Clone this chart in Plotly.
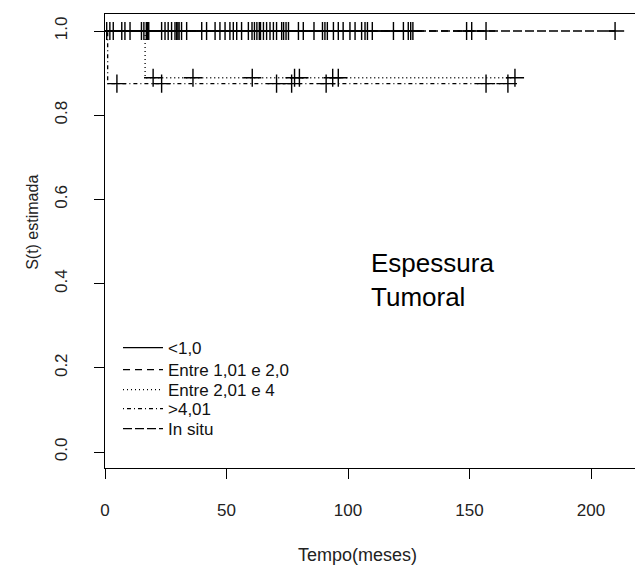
import plotly.graph_objects as go

# ---------------- data ----------------
group_names = ["&lt;1,0", "Entre 1,01 e 2,0", "Entre 2,01 e 4", "&gt;4,01", "In situ"]

# step-function knots (time, survival) for each group
lt1_times = [0, 126.7]
lt1_surv = [1.0, 1.0]
lt1_censor = [0.7, 2.0, 3.4, 6.9, 8.2, 10.3, 15.0, 16.0, 17.0, 18.0, 23.3, 24.7, 26.0,
              27.4, 28.8, 29.5, 30.5, 31.5, 33.6, 39.8, 41.8, 45.3, 47.3, 49.4, 51.4,
              52.8, 54.2, 56.2, 60.5, 61.5, 62.5, 63.5, 65.2, 66.5, 67.9, 69.3, 70.6,
              72.7, 73.5, 74.5, 75.5, 79.6, 81.6, 89.5, 90.5, 91.5, 94.0, 96.0, 98.0,
              100.8, 102.9, 105.6, 107.0, 108.0, 110.0, 118.7, 122.8, 124.8, 125.8, 126.7]

e12_times = [0, 156.8]
e12_surv = [1.0, 1.0]
e12_censor = [17.5, 59.0, 86.0, 148.8, 156.8]

e24_times = [0, 16.5, 168.7]
e24_surv = [1.0, 0.889, 0.889]
e24_censor = [19.8, 36.2, 60.6, 78.0, 80.0, 93.7, 96.0, 168.7]

g4_times = [0, 1.1, 165.8]
g4_surv = [1.0, 0.875, 0.875]
g4_censor = [4.9, 23.3, 70.6, 76.8, 91.0, 156.8, 165.8]

situ_times = [0, 209.9]
situ_surv = [1.0, 1.0]
situ_censor = [30.0, 64.0, 150.9, 209.9]

x_ticks = [0, 50, 100, 150, 200]
y_ticks = [0.0, 0.2, 0.4, 0.6, 0.8, 1.0]
y_ticklabels = ["0.0", "0.2", "0.4", "0.6", "0.8", "1.0"]

# ---------------- helpers ----------------
def surv_at(times, surv, t):
    s = surv[0]
    for ti, si in zip(times, surv):
        if ti <= t:
            s = si
    return s

groups = [
    (group_names[0], lt1_times, lt1_surv, lt1_censor, "solid"),
    (group_names[1], e12_times, e12_surv, e12_censor, "7px,5px"),
    (group_names[2], e24_times, e24_surv, e24_censor, "1px,3px"),
    (group_names[3], g4_times, g4_surv, g4_censor, "1px,3px,4px,3px"),
    (group_names[4], situ_times, situ_surv, situ_censor, "9px,3px"),
]

legend_ids = ["legend", "legend2", "legend3", "legend4", "legend5"]
legend_row_px = [348, 370, 390, 409, 429]   # row centres in the reference picture

fig = go.Figure()
for (name, ts, ss, cs, dash), lid in zip(groups, legend_ids):
    fig.add_trace(go.Scatter(
        x=ts, y=ss, mode="lines", name=name, line_shape="hv",
        line=dict(color="black", width=1.3, dash=dash), showlegend=True, legend=lid))
for name, ts, ss, cs, dash in groups:
    fig.add_trace(go.Scatter(
        x=cs, y=[surv_at(ts, ss, c) for c in cs], mode="markers", showlegend=False,
        marker=dict(symbol="cross-thin", size=13, line=dict(color="black", width=1.4))))

font_family = "Liberation Sans, Arial, sans-serif"

plot_top, plot_bottom, plot_left, plot_w = 14, 468, 105, 530
plot_h = plot_bottom - plot_top

legends = {}
for lid, ypx in zip(legend_ids, legend_row_px):
    legends[lid] = dict(x=(118 - plot_left) / plot_w, y=(plot_bottom - (ypx - 18)) / plot_h,
                        xanchor="left", yanchor="top", bgcolor="rgba(0,0,0,0)",
                        font=dict(size=17, color="#111"), itemwidth=40)

fig.update_layout(
    width=635, height=569,
    margin=dict(l=plot_left, r=0, t=plot_top, b=569 - plot_bottom),
    paper_bgcolor="white", plot_bgcolor="white",
    font=dict(family=font_family, color="black", size=17),
    xaxis=dict(range=[0, 218.1], tickvals=x_ticks, ticks="outside", ticklen=10,
               tickcolor="black", showline=True, linecolor="black", linewidth=1,
               mirror=True, showgrid=False, zeroline=False,
               tickfont=dict(size=17, color="#222"), ticklabelstandoff=17),
    yaxis=dict(range=[-0.038, 1.0404], tickvals=y_ticks, ticktext=y_ticklabels,
               tickangle=-90, ticks="outside", ticklen=10, tickcolor="black",
               showline=True, linecolor="black", linewidth=1, mirror=False,
               showgrid=False, zeroline=False,
               tickfont=dict(size=17, color="#222"), ticklabelstandoff=20),
    showlegend=True,
    annotations=[
        dict(text="S(t) estimada", xref="paper", yref="paper", x=-0.136, y=0.542,
             textangle=-90, showarrow=False, xanchor="center", yanchor="middle",
             font=dict(size=16, color="#222")),
        dict(text="Tempo(meses)", xref="paper", yref="paper", x=0.4755, y=-0.192,
             showarrow=False, xanchor="center", yanchor="middle",
             font=dict(size=18, color="#222")),
        dict(text="Espessura<br>Tumoral", xref="paper", yref="paper",
             x=(369 - plot_left) / plot_w, y=(plot_bottom - 246) / plot_h,
             showarrow=False, xanchor="left", yanchor="top", align="left",
             font=dict(size=26, color="black")),
    ],
    **legends,
)

fig.write_html("out.html")
